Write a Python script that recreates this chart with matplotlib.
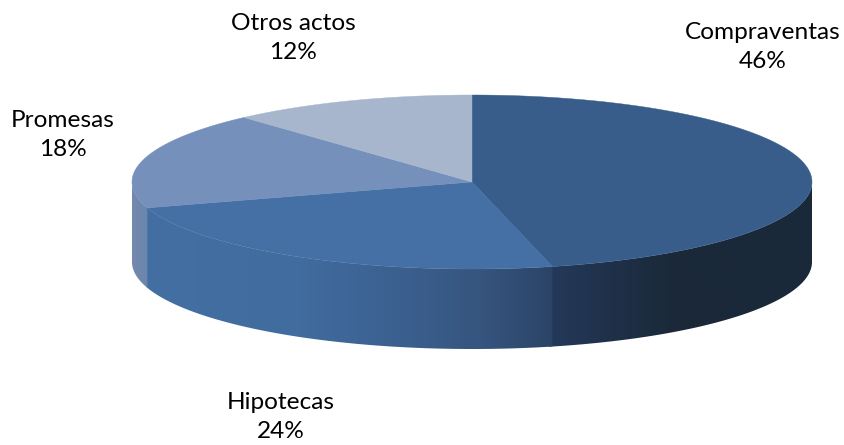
import numpy as np
import matplotlib
matplotlib.use('Agg')
import matplotlib.pyplot as plt
from matplotlib.colors import to_rgb
from matplotlib.patches import Polygon

labels = ['Compraventas', 'Hipotecas', 'Promesas', 'Otros actos']
values = [46.2, 24.0, 18.1, 11.7]
top_colors = ['#385d8a', '#4470a5', '#7490bb', '#a7b6cd']

# side gradient stops, (pixel x, colour)
side_stops = [
    [(552, '#24395a'), (610, '#1f3149'), (680, '#1a2838'), (812, '#1a2a3b')],
    [(147, '#446fa3'), (300, '#416c9f'), (400, '#3b608f'), (480, '#36557f'), (552, '#2b4466')],
    [(132, '#7489ae'), (147, '#6b86ad')],
    [(132, '#7489ae'), (147, '#7489ae')],
]
label_pos = [(763, 47), (281, 417), (63, 135), (293, 38)]

cx, cy = 472, 182
rx, ry = 340, 87
depth = 80

plt.rcParams['font.family'] = ['Lato', 'DejaVu Sans']


def rim(deg):
    # angle runs clockwise from the top of the pie
    t = np.radians(deg)
    return cx + rx * np.sin(t), cy - ry * np.cos(t)


fig = plt.figure(figsize=(8.44, 4.45), dpi=100)
ax = fig.add_axes([0, 0, 1, 1])

angles = np.cumsum([0] + values) * 3.6

# sides first, only the part facing the viewer
for i in range(len(values)):
    a0 = max(angles[i], 90)
    # run a little past the joint so the next slice covers the seam
    a1 = min(angles[i + 1] + 0.6, 270)
    if a1 <= a0:
        continue
    x, y = rim(np.linspace(a0, a1, 200))
    pts = np.r_[np.c_[x, y], np.c_[x, y + depth][::-1]]
    clip = Polygon(pts, closed=True, fc='none', ec='none', transform=ax.transData)
    ax.add_patch(clip)
    xs = np.arange(int(x.min()) - 1, int(x.max()) + 2)
    stop_x = [s[0] for s in side_stops[i]]
    stop_c = np.array([to_rgb(s[1]) for s in side_stops[i]])
    grad = np.stack([np.interp(xs, stop_x, stop_c[:, k]) for k in range(3)], axis=-1)[None, :, :]
    im = ax.imshow(grad, extent=(xs[0], xs[-1], y.max() + depth + 2, y.min() - 2),
                   aspect='auto', interpolation='bilinear')
    im.set_clip_path(clip)

# top face
for i in range(len(values)):
    x, y = rim(np.linspace(angles[i], angles[i + 1], 200))
    pts = np.r_[[(cx, cy)], np.c_[x, y]]
    ax.add_patch(Polygon(pts, closed=True, fc=top_colors[i], ec=top_colors[i], lw=0.3))

for name, val, pos in zip(labels, values, label_pos):
    ax.text(pos[0], pos[1], f'{name}\n{val:.0f}%', ha='center', va='center',
            fontsize=17.6, color='black', linespacing=1.5)

ax.set_xlim(0, 844)
ax.set_ylim(445, 0)
ax.axis('off')
fig.savefig('out.png', dpi=100, facecolor='white')
